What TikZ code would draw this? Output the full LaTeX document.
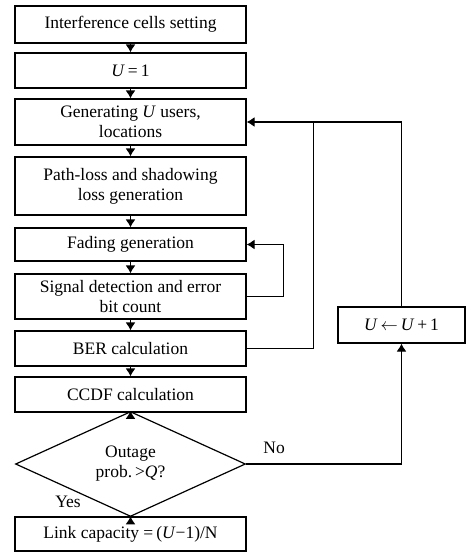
\documentclass[tikz,border=0pt]{standalone}
\usepackage{fontspec}
\setmainfont{Liberation Serif}
\usetikzlibrary{shapes.geometric, arrows.meta}

\begin{document}
\begin{tikzpicture}[x=1pt, y=-1pt, line width=1.2pt, >={Latex[length=8pt,width=10pt]},
    blk/.style={draw, minimum width=231pt, inner sep=0pt, align=center,
        font=\fontsize{17.5}{20}\selectfont},
    dec/.style={draw, diamond, minimum width=230pt, minimum height=82pt,
        inner sep=0pt, align=center, font=\fontsize{17.5}{20}\selectfont},
    lbl/.style={font=\fontsize{17.5}{20}\selectfont}]
    \useasboundingbox (0,0) rectangle (468,552);
    % 1. main column
    \node[blk, minimum height=37pt] (set) at (130.5,24.5) {Interference cells setting};
    \node[blk, minimum height=35pt] (one) at (130.5,70.5) {\textit{U}\,=\,1};
    \node[blk, minimum height=46pt] (gen) at (130.5,122) {Generating \textit{U} users,\\locations};
    \node[blk, minimum height=58pt] (path) at (130.5,186) {Path-loss and shadowing\\loss generation};
    \node[blk, minimum height=33pt] (fad) at (130.5,244.5) {Fading generation};
    \node[blk, minimum height=45pt] (sig) at (130.5,296.5) {Signal detection and error\\bit count};
    \node[blk, minimum height=35pt] (ber) at (130.5,348.5) {BER calculation};
    \node[blk, minimum height=35pt] (ccdf) at (130.5,394.5) {CCDF calculation};
    \node[dec] (out) at (130.5,464) {Outage\\prob.\,>\textit{Q}?};
    \node[blk, minimum height=34pt] (cap) at (130.5,534) {Link capacity =\,(\textit{U}−1)/N};
    \node[blk, minimum width=127pt, minimum height=36pt] (inc) at (401.5,325) {\textit{U}\,$\leftarrow$\,\textit{U}\,+\,1};

    % 2. arrows down the column
    \foreach \a/\b in {set/one, one/gen, gen/path, path/fad, fad/sig, sig/ber, ber/ccdf, ccdf/out, out/cap}
        \draw[->] (\a) -- (\b);

    % 3. loops
    \draw[->] (sig.east) -- ++(37,0) |- (fad.east);
    \draw[->] (ber.east) -- ++(67,0) coordinate (jn) |- (gen.east);
    \draw (inc.north) |- (jn |- gen.east);
    \draw[->] (out.east) -| node[lbl, above, pos=0.09, yshift=6pt] {No} (inc.south);
    \node[lbl] (yes) at (68,502) {Yes};
\end{tikzpicture}
\end{document}
